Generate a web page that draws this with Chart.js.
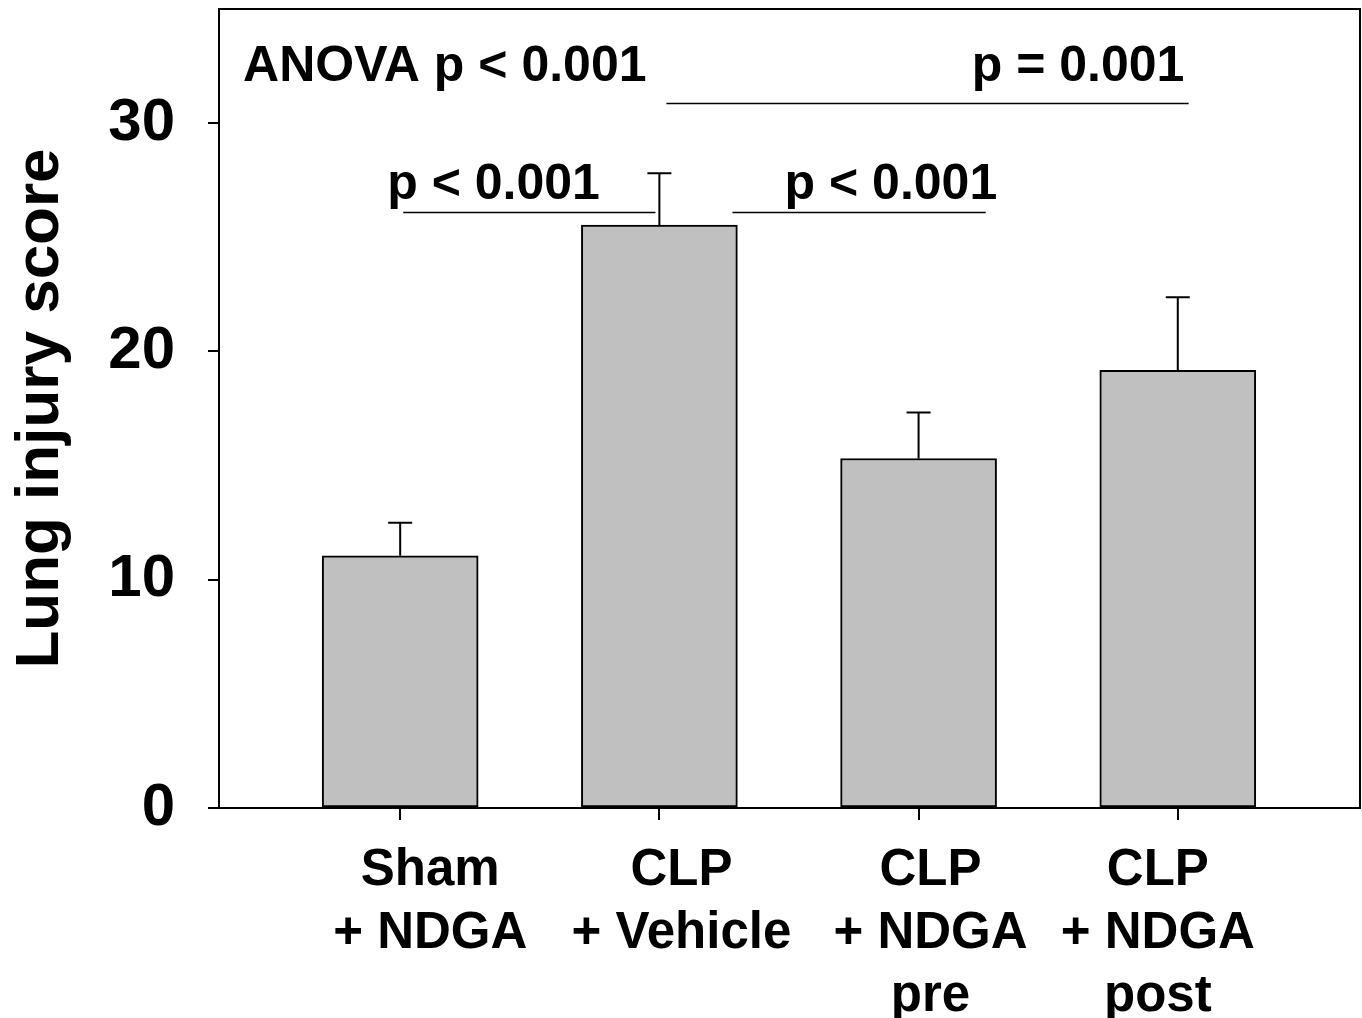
<!DOCTYPE html>
<html>
<head>
<meta charset="utf-8">
<script src="https://cdn.jsdelivr.net/npm/chart.js@4/dist/chart.umd.min.js"></script>
<style>
  html, body { margin: 0; padding: 0; background: #fff; }
  #wrap { width: 1362px; height: 1018px; position: relative; }
</style>
</head>
<body>
<div id="wrap"><canvas id="c"></canvas></div>
<script>
// ---- data ----
const categories = [
  ["Sham", "+ NDGA"],
  ["CLP", "+ Vehicle"],
  ["CLP", "+ NDGA", "pre"],
  ["CLP", "+ NDGA", "post"]
];
const positions = [1, 2, 3, 4];
const means = [11.05, 25.53, 15.31, 19.17];
const errorTops = [12.5, 27.8, 17.32, 22.37];
const yTicks = [0, 10, 20, 30];
const yTitle = "Lung injury score";
const anovaText = "ANOVA p < 0.001";
const compTexts = ["p < 0.001", "p < 0.001", "p = 0.001"];

const FONT = "'Liberation Sans', Arial, Helvetica, sans-serif";

// ---- plugins ----
const frame = {
  id: 'frame',
  afterDraw(chart) {
    const {ctx, chartArea: a} = chart;
    ctx.save();
    ctx.strokeStyle = '#000';
    ctx.lineWidth = 2;
    ctx.beginPath();
    ctx.moveTo(a.left, a.top);
    ctx.lineTo(a.right, a.top);
    ctx.lineTo(a.right, a.bottom);
    ctx.stroke();
    ctx.restore();
  }
};

const errorBars = {
  id: 'errorBars',
  afterDatasetsDraw(chart) {
    const {ctx, scales: {x, y}} = chart;
    ctx.save();
    ctx.strokeStyle = '#000';
    ctx.lineWidth = 2;
    const capHalf = 12;
    positions.forEach((p, i) => {
      const px = x.getPixelForValue(p);
      const y0 = y.getPixelForValue(means[i]);
      const y1 = y.getPixelForValue(errorTops[i]);
      ctx.beginPath();
      ctx.moveTo(px, y0);
      ctx.lineTo(px, y1);
      ctx.moveTo(px - capHalf, y1);
      ctx.lineTo(px + capHalf, y1);
      ctx.stroke();
    });
    ctx.restore();
  }
};

// category labels: drawn under the axis, slightly off-centre as in the original
const xLabels = {
  id: 'xLabels',
  afterDraw(chart, args, opts) {
    const {ctx, chartArea: a, scales: {x}} = chart;
    ctx.save();
    ctx.fillStyle = '#000';
    ctx.font = 'bold 51px ' + FONT;
    ctx.textAlign = 'center';
    ctx.textBaseline = 'alphabetic';
    categories.forEach((lines, i) => {
      const cx = x.getPixelForValue(opts.centers[i]);
      lines.forEach((ln, j) => {
        ctx.fillText(ln, cx, a.bottom + opts.firstBaseline + j * opts.lineStep);
      });
    });
    ctx.restore();
  }
};

const annotations = {
  id: 'annotations',
  afterDatasetsDraw(chart, args, opts) {
    const {ctx, scales: {x, y}} = chart;
    ctx.save();
    ctx.fillStyle = '#000';
    ctx.strokeStyle = '#000';
    ctx.font = 'bold 50px ' + FONT;
    ctx.textBaseline = 'alphabetic';
    ctx.textAlign = 'left';
    opts.texts.forEach(t => {
      ctx.fillText(t.text, x.getPixelForValue(t.x), y.getPixelForValue(t.y));
    });
    ctx.lineWidth = 1.6;
    opts.lines.forEach(l => {
      const yy = Math.round(y.getPixelForValue(l.y)) + 0.5;
      ctx.beginPath();
      ctx.moveTo(x.getPixelForValue(l.x0), yy);
      ctx.lineTo(x.getPixelForValue(l.x1), yy);
      ctx.stroke();
    });
    ctx.restore();
  }
};

new Chart(document.getElementById('c'), {
  type: 'bar',
  data: {
    datasets: [{
      data: positions.map((p, i) => ({x: p, y: means[i]})),
      backgroundColor: '#c0c0c0',
      borderColor: '#000',
      borderWidth: 2,
      borderSkipped: false,
      barThickness: 156
    }]
  },
  options: {
    responsive: true,
    maintainAspectRatio: false,
    animation: false,
    layout: { padding: { top: 9, right: 2, left: 0, bottom: 0 } },
    plugins: {
      legend: { display: false },
      tooltip: { enabled: false },
      xLabels: {
        centers: [1.116, 2.085, 3.046, 3.923],
        firstBaseline: 77,
        lineStep: 63
      },
      annotations: {
        texts: [
          { text: anovaText, x: 0.394, y: 31.84 },
          { text: compTexts[0], x: 0.950, y: 26.67 },
          { text: compTexts[1], x: 2.483, y: 26.67 },
          { text: compTexts[2], x: 3.205, y: 31.84 }
        ],
        lines: [
          { x0: 1.012, x1: 1.985, y: 26.10 },
          { x0: 2.282, x1: 3.259, y: 26.10 },
          { x0: 2.027, x1: 4.042, y: 30.88 }
        ]
      }
    },
    scales: {
      x: {
        type: 'linear',
        min: 0.301,
        max: 4.703,
        offset: false,
        afterBuildTicks(scale) { scale.ticks = positions.map(v => ({value: v})); },
        afterFit(scale) { scale.height = 210; scale.paddingLeft = 0; scale.paddingRight = 0; },
        grid: { offset: false, drawOnChartArea: false, drawTicks: true, tickLength: 12, color: '#000', lineWidth: 2 },
        border: { display: true, color: '#000', width: 2 },
        ticks: { display: false }
      },
      y: {
        min: 0,
        max: 35,
        afterBuildTicks(scale) { scale.ticks = yTicks.map(v => ({value: v})); },
        afterFit(scale) { scale.width = 219; scale.paddingTop = 0; scale.paddingBottom = 0; },
        grid: { drawOnChartArea: false, drawTicks: true, tickLength: 11, color: '#000', lineWidth: 2 },
        border: { display: true, color: '#000', width: 2 },
        ticks: {
          padding: 33,
          color: '#000',
          font: { family: FONT, size: 60, weight: 'bold' }
        },
        title: {
          display: true,
          text: yTitle,
          color: '#000',
          padding: { top: 4, bottom: 0 },
          font: { family: FONT, size: 62, weight: 'bold' }
        }
      }
    }
  },
  plugins: [frame, errorBars, xLabels, annotations]
});
</script>
</body>
</html>
